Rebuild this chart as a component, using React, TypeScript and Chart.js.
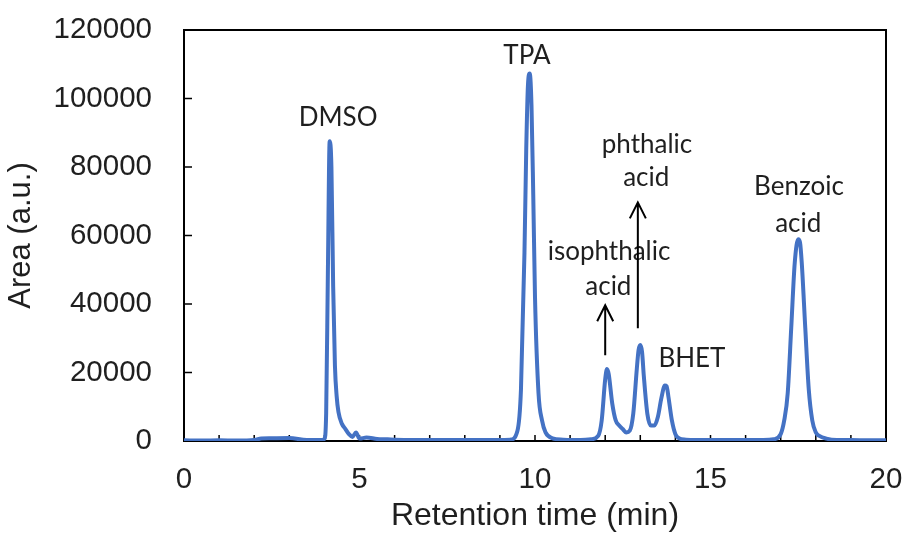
import React, { useEffect, useRef } from "react";
import { Chart, registerables } from "chart.js";

Chart.register(...registerables);

// Retention time (min) and detector area (a.u.)
const retentionTime = [
  0, 0.5, 1, 1.5, 2, 2.2, 2.5, 3, 3.5, 3.9,
  4.0, 4.05, 4.1, 4.15, 4.2, 4.25, 4.3, 4.35, 4.4, 4.5,
  4.6, 4.7, 4.8, 4.9, 5.0, 5.2, 5.5, 5.8, 6, 6.5,
  7, 7.5, 8, 8.5, 9, 9.3, 9.5, 9.6, 9.7, 9.75,
  9.8, 9.85, 9.9, 9.95, 10.0, 10.1, 10.2, 10.3, 10.5, 10.8,
  11, 11.3, 11.6, 11.8, 11.9, 12.0, 12.05, 12.1, 12.2, 12.3,
  12.4, 12.5, 12.6, 12.7, 12.8, 12.9, 12.95, 13.0, 13.05, 13.1,
  13.2, 13.3, 13.4, 13.5, 13.6, 13.7, 13.75, 13.8, 13.9, 14.0,
  14.1, 14.3, 14.6, 15, 15.5, 16, 16.5, 16.8, 17.0, 17.1,
  17.2, 17.3, 17.4, 17.5, 17.55, 17.6, 17.7, 17.8, 17.9, 18.0,
  18.1, 18.3, 18.6, 19, 19.5, 20,
];
const area = [
  200, 150, 200, 150, 300, 700, 800, 900, 300, 300,
  600, 8000, 50000, 87500, 80000, 45000, 22000, 13000, 8500, 5000,
  3500, 2000, 1200, 2500, 700, 1000, 600, 500, 400, 300,
  300, 300, 300, 300, 300, 400, 3000, 15000, 55000, 85000,
  104000, 107300, 98000, 72000, 42000, 14000, 6000, 2500, 800, 400,
  300, 300, 500, 1500, 6000, 18000, 21000, 19500, 11000, 6000,
  4500, 3500, 2500, 3000, 8000, 21000, 26500, 28000, 26000, 19000,
  8000, 4500, 4500, 7000, 12500, 16200, 16000, 13000, 6000, 2000,
  800, 400, 300, 300, 300, 300, 300, 500, 2000, 6000,
  14000, 33000, 52000, 58900, 58000, 52000, 33000, 15000, 6000, 2500,
  1500, 700, 300, 300, 200, 200,
];

const xMin = 0;
const xMax = 20;
const xStep = 1;
const xLabelEvery = 5;
const yMin = 0;
const yMax = 120000;
const yStep = 20000;

const xTitle = "Retention time (min)";
const yTitle = "Area (a.u.)";

// Peak annotations (data coordinates: x = centre, y = text baseline)
const peakLabels = ["DMSO", "TPA", "phthalic", "acid", "isophthalic", "acid", "BHET", "Benzoic", "acid"];
const peakLabelX = [4.39, 9.77, 13.19, 13.17, 12.11, 12.09, 14.47, 17.52, 17.5];
const peakLabelY = [92100, 110200, 83950, 74330, 52760, 42560, 21570, 71710, 61000];

// Arrows (x, from y, to y)
const arrowX = [12.0, 12.93];
const arrowFromY = [25070, 32940];
const arrowToY = [39640, 69670];

const LINE_COLOR = "#4472C4";
const TEXT_COLOR = "#1f1f1f";
const AXIS_FONT = "'Liberation Sans', Arial, sans-serif";
const NOTE_FONT = "Lato, 'Open Sans', sans-serif";

const framePlugin = {
  id: "frameAndInwardTicks",
  beforeDatasetsDraw(chart: any) {
    const { ctx, chartArea, scales } = chart;
    ctx.save();
    ctx.strokeStyle = "#000";
    ctx.lineWidth = 2;
    ctx.strokeRect(chartArea.left, chartArea.top, chartArea.right - chartArea.left, chartArea.bottom - chartArea.top);
    ctx.lineWidth = 1.5;
    ctx.beginPath();
    for (const t of scales.x.ticks) {
      if (t.value <= xMin || t.value >= xMax) continue;
      const px = scales.x.getPixelForValue(t.value);
      ctx.moveTo(px, chartArea.bottom);
      ctx.lineTo(px, chartArea.bottom - 6);
    }
    for (const t of scales.y.ticks) {
      if (t.value <= yMin || t.value >= yMax) continue;
      const py = scales.y.getPixelForValue(t.value);
      ctx.moveTo(chartArea.left, py);
      ctx.lineTo(chartArea.left + 8, py);
    }
    ctx.stroke();
    ctx.restore();
  },
};

const annotationPlugin = {
  id: "peakAnnotations",
  afterDatasetsDraw(chart: any) {
    const { ctx, scales } = chart;
    ctx.save();
    ctx.fillStyle = TEXT_COLOR;
    ctx.font = `26px ${NOTE_FONT}`;
    ctx.textAlign = "center";
    ctx.textBaseline = "alphabetic";
    peakLabels.forEach((txt, i) => {
      ctx.fillText(txt, scales.x.getPixelForValue(peakLabelX[i]), scales.y.getPixelForValue(peakLabelY[i]));
    });
    ctx.strokeStyle = "#000";
    ctx.lineWidth = 2;
    arrowX.forEach((ax, i) => {
      const x = scales.x.getPixelForValue(ax);
      const y0 = scales.y.getPixelForValue(arrowFromY[i]);
      const y1 = scales.y.getPixelForValue(arrowToY[i]);
      ctx.beginPath();
      ctx.moveTo(x, y0);
      ctx.lineTo(x, y1);
      ctx.moveTo(x - 8, y1 + 16);
      ctx.lineTo(x, y1);
      ctx.lineTo(x + 8, y1 + 16);
      ctx.stroke();
    });
    ctx.restore();
  },
};

export default function App() {
  const canvasRef = useRef<HTMLCanvasElement | null>(null);

  useEffect(() => {
    if (!canvasRef.current) return;
    const points = retentionTime.map((t, i) => ({ x: t, y: area[i] }));
    const chart = new Chart(canvasRef.current, {
      type: "line",
      data: {
        datasets: [
          {
            data: points,
            borderColor: LINE_COLOR,
            borderWidth: 4,
            pointRadius: 0,
            cubicInterpolationMode: "monotone",
            fill: false,
          },
        ],
      },
      options: {
        animation: false,
        responsive: false,
        devicePixelRatio: 1,
        layout: { padding: { left: 0, right: 20, top: 30, bottom: 0 } },
        plugins: { legend: { display: false }, tooltip: { enabled: false } },
        scales: {
          x: {
            type: "linear",
            min: xMin,
            max: xMax,
            afterFit: (s: any) => {
              s.height = 98;
            },
            ticks: {
              stepSize: xStep,
              autoSkip: false,
              maxRotation: 0,
              padding: 2,
              color: TEXT_COLOR,
              font: { family: AXIS_FONT, size: 29.5 },
              callback: (v: any) => (Number(v) % xLabelEvery === 0 ? String(v) : ""),
            },
            grid: { drawOnChartArea: false, drawTicks: true, tickLength: 19, tickColor: "rgba(0,0,0,0)" },
            border: { display: false },
            title: {
              display: true,
              text: xTitle,
              color: TEXT_COLOR,
              font: { family: AXIS_FONT, size: 32 },
              padding: { top: 0, bottom: 4 },
            },
          },
          y: {
            min: yMin,
            max: yMax,
            afterFit: (s: any) => {
              s.width = 184;
            },
            ticks: {
              stepSize: yStep,
              padding: 2,
              color: TEXT_COLOR,
              font: { family: AXIS_FONT, size: 29.5 },
              callback: (v: any) => String(v),
            },
            grid: { drawOnChartArea: false, drawTicks: true, tickLength: 30, tickColor: "rgba(0,0,0,0)" },
            border: { display: false },
            title: {
              display: true,
              text: yTitle,
              color: TEXT_COLOR,
              font: { family: AXIS_FONT, size: 31 },
              padding: { top: 3, bottom: 0 },
            },
          },
        },
      },
      plugins: [framePlugin, annotationPlugin],
    } as any);
    return () => chart.destroy();
  }, []);

  return (
    <div style={{ position: "absolute", left: 0, top: 0, width: 906, height: 539, background: "#fff" }}>
      <canvas ref={canvasRef} width={906} height={539} />
    </div>
  );
}
